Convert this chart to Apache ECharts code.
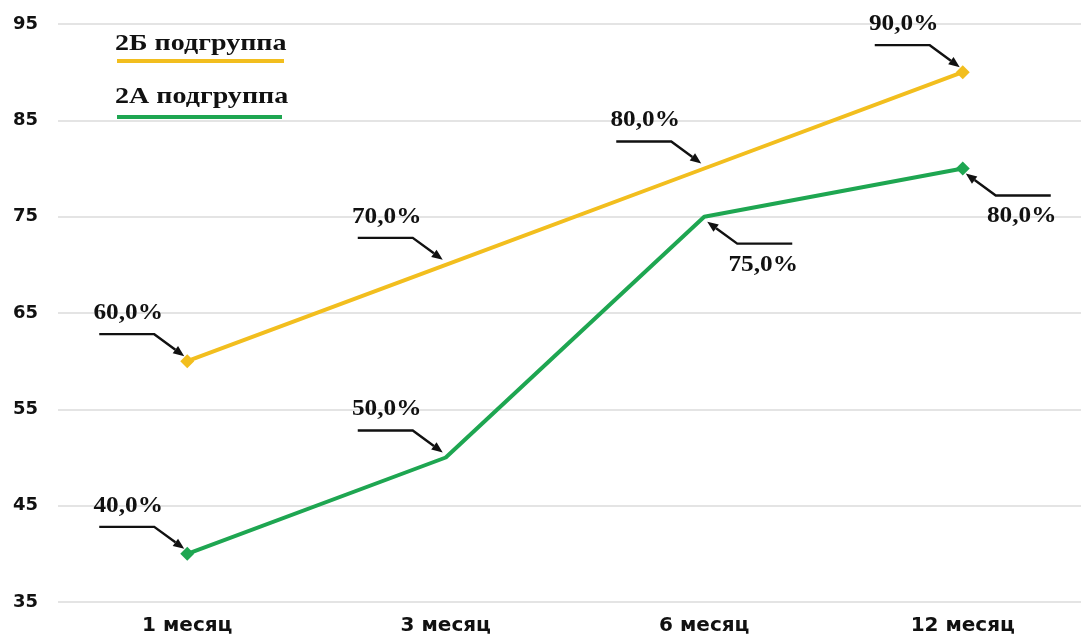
<!DOCTYPE html>
<html><head><meta charset="utf-8">
<script src="https://cdn.jsdelivr.net/npm/echarts@6/dist/echarts.min.js"></script>
<style>html,body{margin:0;padding:0;background:#fff;overflow:hidden}#c{width:1092px;height:642px}</style>
</head><body><div id="c"></div>
<script>
const categories = ['1 месяц', '3 месяц', '6 месяц', '12 месяц'];
const yTicks = [35, 45, 55, 65, 75, 85, 95];
const seriesB = [60, 70, 80, 90];   // 2Б подгруппа
const seriesA = [40, 50, 75, 80];   // 2А подгруппа
const nameB = '2Б подгруппа';
const nameA = '2А подгруппа';
// annotation side per point: 1 = label upper-left, -1 = label lower-right
const sideB = [1, 1, 1, 1];
const sideA = [1, 1, -1, -1];

const colB = '#F2BE1E', colA = '#1EA651';
const fmt = v => v.toFixed(1).replace('.', ',') + '%';

function annData(vals, sides) {
  return vals.map((v, i) => [i, v, sides[i]]);
}

function renderAnn(params, api) {
  const p = api.coord([api.value(0), api.value(1)]);
  const s = api.value(2) === 1 ? -1 : 1;
  const tip = [p[0] + s * 3, p[1] + s * 5];
  const elbow = [p[0] + s * 33, p[1] + s * 27];
  const end = [p[0] + s * 88, p[1] + s * 27];
  const dx = tip[0] - elbow[0], dy = tip[1] - elbow[1];
  const L = Math.sqrt(dx * dx + dy * dy);
  const ux = dx / L, uy = dy / L;
  const bx = tip[0] - ux * 11, by = tip[1] - uy * 11;
  const nx = -uy, ny = ux;
  const head = [tip, [bx + nx * 4.5, by + ny * 4.5], [bx - nx * 4.5, by - ny * 4.5]];
  const txt = fmt(api.value(1));
  const tcx = p[0] + s * 59, tcy = p[1] + s * 48;
  return {
    type: 'group',
    children: [
      { type: 'polyline', shape: { points: [end, elbow, [bx, by]] },
        style: { stroke: '#111', lineWidth: 2.4, fill: null } },
      { type: 'polygon', shape: { points: head }, style: { fill: '#111' } },
      { type: 'text', x: tcx, y: tcy, scaleX: 1.1, originX: 0,
        style: { text: txt, font: 'bold 23px "Liberation Serif"', fill: '#111',
          align: 'center', verticalAlign: 'middle' } }
    ]
  };
}

const endSize = (v, p) => (p.dataIndex === 0 || p.dataIndex === categories.length - 1) ? 14 : 0;

const chart = echarts.init(document.getElementById('c'), null, { renderer: 'canvas' });
chart.setOption({
  animation: false,
  backgroundColor: '#fff',
  grid: { left: 58, right: 0, top: 24, bottom: 40 },
  xAxis: {
    type: 'category', data: categories, boundaryGap: true,
    axisLine: { show: false }, axisTick: { show: false },
    axisLabel: { margin: 14, color: '#111', fontFamily: 'DejaVu Sans', fontWeight: 'bold', fontSize: 20 }
  },
  yAxis: {
    type: 'value', min: yTicks[0], max: yTicks[yTicks.length - 1], interval: 10,
    axisLine: { show: false }, axisTick: { show: false },
    axisLabel: { margin: 20, color: '#111', fontFamily: 'DejaVu Sans', fontWeight: 'bold', fontSize: 18 },
    splitLine: { lineStyle: { color: '#e4e4e4', width: 2 } }
  },
  graphic: [
    { type: 'text', left: 115, top: 33, scaleX: 1.22,
      style: { text: nameB, font: 'bold 23px "Liberation Serif"', fill: '#111' } },
    { type: 'line', shape: { x1: 117, y1: 61, x2: 284, y2: 61 }, style: { stroke: colB, lineWidth: 4 } },
    { type: 'text', left: 115, top: 86, scaleX: 1.22,
      style: { text: nameA, font: 'bold 23px "Liberation Serif"', fill: '#111' } },
    { type: 'line', shape: { x1: 117, y1: 117, x2: 282, y2: 117 }, style: { stroke: colA, lineWidth: 4 } }
  ],
  series: [
    { name: nameB, type: 'line', data: seriesB, color: colB, lineStyle: { width: 4 },
      symbol: 'diamond', symbolSize: endSize, itemStyle: { color: colB } },
    { name: nameA, type: 'line', data: seriesA, color: colA, lineStyle: { width: 4 },
      symbol: 'diamond', symbolSize: endSize, itemStyle: { color: colA } },
    { type: 'custom', renderItem: renderAnn, data: annData(seriesB, sideB), z: 5 },
    { type: 'custom', renderItem: renderAnn, data: annData(seriesA, sideA), z: 5 }
  ]
});
</script></body></html>
